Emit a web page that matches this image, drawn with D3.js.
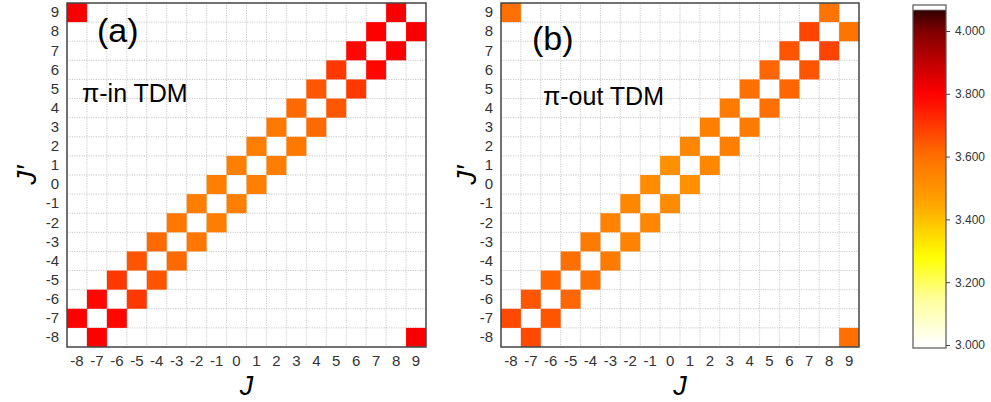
<!DOCTYPE html>
<html>
<head>
<meta charset="utf-8">
<script src="https://cdn.jsdelivr.net/npm/d3@7"></script>
<style>
  body { margin: 0; background: #fff; }
  text { font-family: "Liberation Sans", Arial, sans-serif; }
  .tick text { font-size: 15px; fill: #333; }
  .grid line { stroke: #bbb; stroke-width: 0.8; stroke-dasharray: 1.2,1.2; }
</style>
</head>
<body>
<div id="graphic"></div>
<script>
(function(d3){

    // Quantum numbers along both axes
    let jLabels = [-8, -7, -6, -5, -4, -3, -2, -1, 0, 1, 2, 3, 4, 5, 6, 7, 8, 9];

    // Coupling between J and J+1 (J = -8 .. 8)
    let bondA = [3.80, 3.79, 3.70, 3.65, 3.61, 3.58, 3.56, 3.555, 3.555, 3.56, 3.575, 3.61, 3.645, 3.70, 3.79, 3.80, 3.81];
    let bondB = [3.67, 3.65, 3.62, 3.60, 3.57, 3.55, 3.535, 3.52, 3.51, 3.535, 3.555, 3.57, 3.60, 3.62, 3.65, 3.68, 3.59];

    // Wrap-around coupling between J = 9 and J = -8
    let wrapA = 3.81;
    let wrapB = 3.60;

    // Colour bar
    let colorDomain = [3.0, 3.15, 3.28, 3.45, 3.6, 3.8, 4.0, 4.08];
    let colorRange = ['#ffffff', '#ffff99', '#ffff00', '#ffa500', '#ff7000', '#ff0000', '#800000', '#200000'];
    let barTicks = [3.0, 3.2, 3.4, 3.6, 3.8, 4.0];

    let width = 991, height = 402;

    let svg = d3.select('#graphic')
                .append('svg')
                .attr('width', width)
                .attr('height', height);

    let color = d3.scaleLinear()
        .domain(colorDomain)
        .range(colorRange)
        .clamp(true);

    function buildCells(bonds, wrap)
    {
        let cells = [];
        bonds.forEach((v, i) => {
            cells.push({ x: jLabels[i], y: jLabels[i + 1], v: v });
            cells.push({ x: jLabels[i + 1], y: jLabels[i], v: v });
        });
        let first = jLabels[0], last = jLabels[jLabels.length - 1];
        cells.push({ x: first, y: last, v: wrap });
        cells.push({ x: last, y: first, v: wrap });
        return cells;
    }

    function drawPanel(opts)
    {
        let x = d3.scaleBand().domain(jLabels).range([opts.left, opts.right]);
        let y = d3.scaleBand().domain(jLabels.slice().reverse()).range([opts.top, opts.bottom]);

        // Dotted grid on the cell boundaries
        let grid = svg.append('g').attr('class', 'grid');
        jLabels.slice(1).forEach(j => {
            grid.append('line')
                .attr('x1', x(j)).attr('x2', x(j))
                .attr('y1', opts.top).attr('y2', opts.bottom);
            grid.append('line')
                .attr('y1', y(j) + y.bandwidth()).attr('y2', y(j) + y.bandwidth())
                .attr('x1', opts.left).attr('x2', opts.right);
        });

        svg.append('g')
            .selectAll('rect')
            .data(opts.cells)
            .join('rect')
            .attr('x', d => x(d.x))
            .attr('y', d => y(d.y))
            .attr('width', x.bandwidth())
            .attr('height', y.bandwidth())
            .attr('fill', d => color(d.v));

        // Frame
        svg.append('rect')
            .attr('x', opts.left)
            .attr('y', opts.top)
            .attr('width', opts.right - opts.left)
            .attr('height', opts.bottom - opts.top)
            .attr('fill', 'none')
            .attr('stroke', '#444')
            .attr('stroke-width', 1.5);

        let xAxis = svg.append('g')
            .attr('transform', `translate(0 ${opts.bottom + 5})`)
            .call(d3.axisBottom(x).tickSize(0));
        xAxis.select('.domain').remove();

        let yAxis = svg.append('g')
            .attr('transform', `translate(${opts.left - 5} 0)`)
            .call(d3.axisLeft(y).tickSize(0));
        yAxis.select('.domain').remove();

        svg.append('text')
            .attr('x', (opts.left + opts.right) / 2)
            .attr('y', 395)
            .attr('text-anchor', 'middle')
            .style('font-size', '27px')
            .style('font-style', 'italic')
            .text('J');

        svg.append('text')
            .attr('transform', `translate(${opts.yTitleX} ${(opts.top + opts.bottom) / 2}) rotate(-90)`)
            .attr('text-anchor', 'middle')
            .style('font-size', '28px')
            .style('font-style', 'italic')
            .text('J\u2032');

        svg.append('text')
            .attr('x', opts.left + opts.tagX)
            .attr('y', opts.tagY)
            .style('font-size', '34px')
            .text(opts.tag);

        svg.append('text')
            .attr('x', opts.left + opts.labelX)
            .attr('y', opts.labelY)
            .style('font-size', '25px')
            .text(opts.label);
    }

    drawPanel({
        left: 67, right: 426, top: 3, bottom: 347, yTitleX: 36,
        cells: buildCells(bondA, wrapA),
        tag: '(a)', tagX: 30, tagY: 42,
        label: '\u03c0-in TDM', labelX: 15, labelY: 102
    });

    drawPanel({
        left: 501, right: 859, top: 3, bottom: 347, yTitleX: 476,
        cells: buildCells(bondB, wrapB),
        tag: '(b)', tagX: 31, tagY: 50,
        label: '\u03c0-out TDM', labelX: 42, labelY: 105
    });

    // Colour bar
    let barX = 913, barW = 33;
    let barScale = d3.scaleLinear().domain([3.0, 4.0]).range([345, 31]);
    let barTop = 10, barBottom = 348;

    let grad = svg.append('defs').append('linearGradient')
        .attr('id', 'bar-grad')
        .attr('x1', 0).attr('x2', 0)
        .attr('y1', 1).attr('y2', 0);

    let vLow = barScale.invert(barBottom), vHigh = barScale.invert(barTop);
    d3.range(0, 1.0001, 0.02).forEach(t => {
        grad.append('stop')
            .attr('offset', t)
            .attr('stop-color', color(vLow + t * (vHigh - vLow)));
    });

    svg.append('rect')
        .attr('x', barX).attr('y', barTop)
        .attr('width', barW).attr('height', barBottom - barTop)
        .attr('fill', 'url(#bar-grad)');

    svg.append('rect')
        .attr('x', barX).attr('y', 5)
        .attr('width', barW).attr('height', barBottom - 5)
        .attr('fill', 'none')
        .attr('stroke', '#555')
        .attr('stroke-width', 1.2);

    svg.append('line')
        .attr('x1', barX).attr('x2', barX + barW)
        .attr('y1', barTop).attr('y2', barTop)
        .attr('stroke', '#888').attr('stroke-width', 0.8);

    let barAxis = svg.append('g')
        .attr('transform', `translate(${barX + barW} 0)`)
        .call(d3.axisRight(barScale).tickValues(barTicks).tickSize(4).tickPadding(5).tickFormat(d3.format('.3f')));
    barAxis.select('.domain').remove();
    barAxis.selectAll('.tick line').attr('stroke', '#444');
    barAxis.selectAll('.tick text').style('font-size', '12px');

})(window.d3);
</script>
</body>
</html>
